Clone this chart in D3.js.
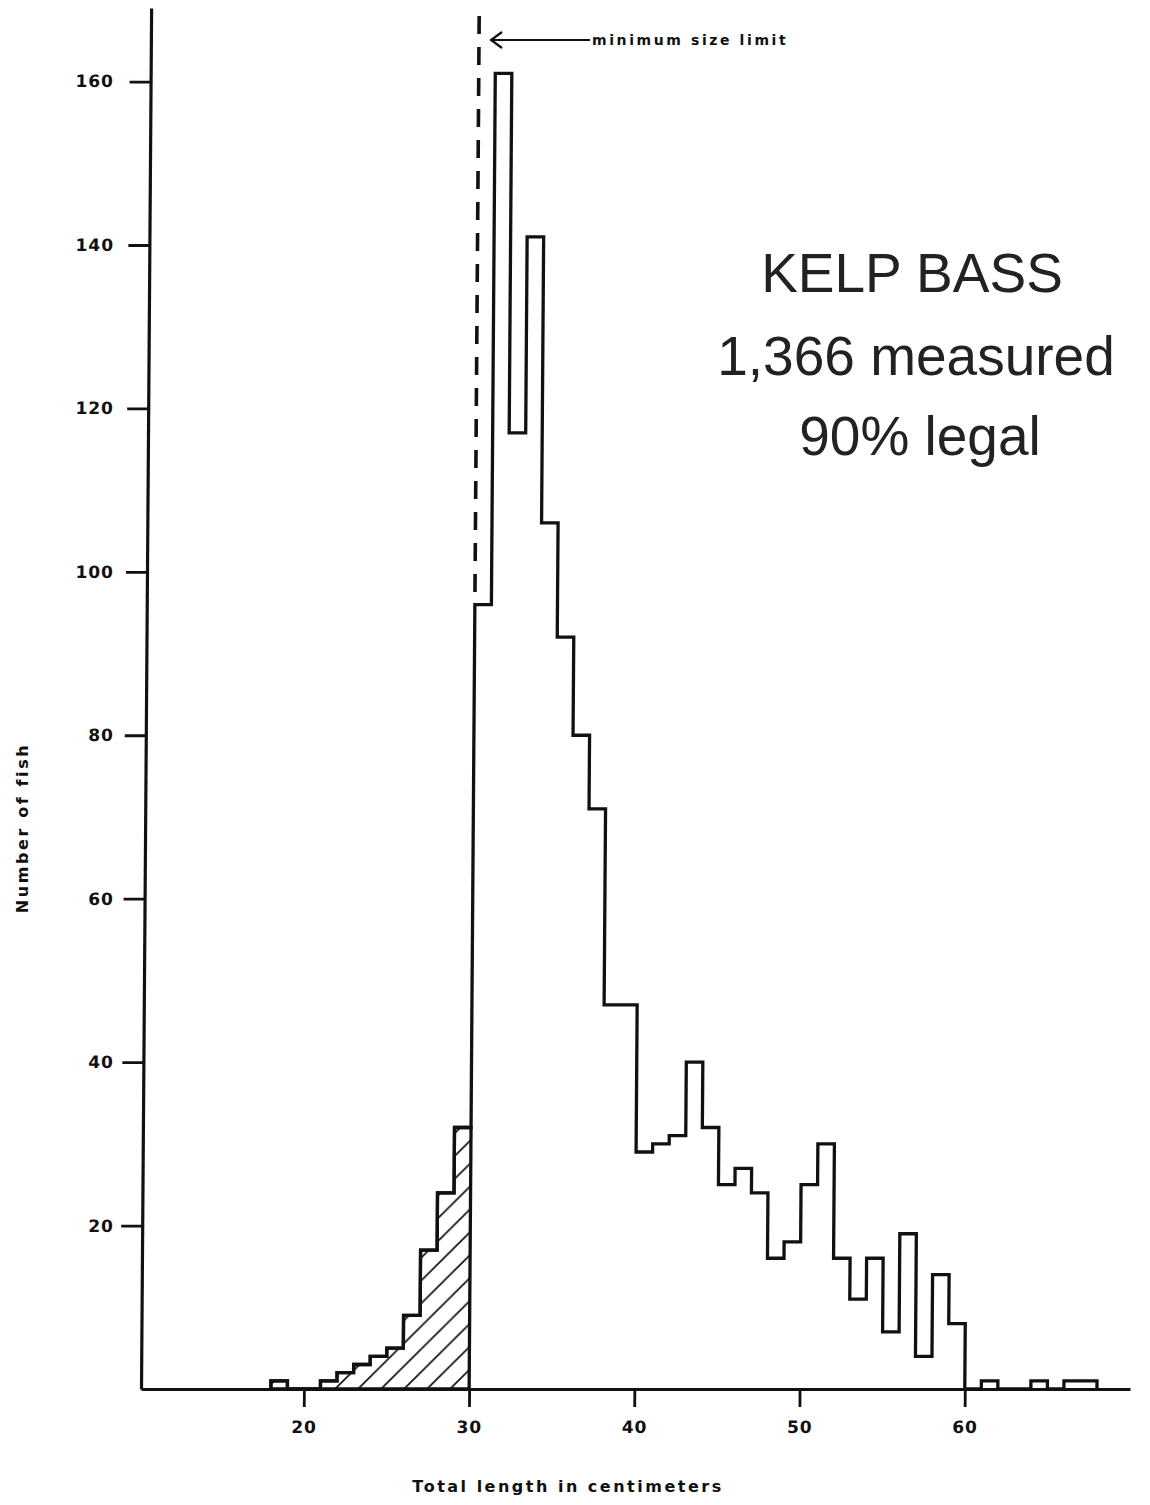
<!DOCTYPE html>
<html>
<head>
<meta charset="utf-8">
<script src="https://cdn.jsdelivr.net/npm/d3@7"></script>
<style>
body { margin: 0; background: #fff; }
</style>
</head>
<body>
<script>
//lower bound of each 1 cm length class
var binStart = [18, 19, 20, 21, 22, 23, 24, 25, 26, 27, 28, 29,
                30, 31, 32, 33, 34, 35, 36, 37, 38, 39,
                40, 41, 42, 43, 44, 45, 46, 47, 48, 49,
                50, 51, 52, 53, 54, 55, 56, 57, 58, 59,
                60, 61, 62, 63, 64, 65, 66, 67];
//number of fish in each class
var fishCount = [1, 0, 0, 1, 2, 3, 4, 5, 9, 17, 24, 32,
                 96, 161, 117, 141, 106, 92, 80, 71, 47, 47,
                 29, 30, 31, 40, 32, 25, 27, 24, 16, 18,
                 25, 30, 16, 11, 16, 7, 19, 4, 14, 8,
                 0, 1, 0, 0, 1, 0, 1, 1];
var xTicks = [20, 30, 40, 50, 60];
var yTicks = [20, 40, 60, 80, 100, 120, 140, 160];
var minSizeLimit = 30; //cm, everything below is hatched (sublegal)
var noteLines = ["KELP BASS", "1,366 measured", "90% legal"];

window.onload = setChart();

function setChart(){
    var width = 1150,
        height = 1505;

    //the scanned original leans a little to the right
    var lean = Math.tan(0.42 * Math.PI / 180);

    var svg = d3.select("body")
        .append("svg")
        .attr("width", width)
        .attr("height", height);

    var x = d3.scaleLinear()
        .domain([10.14, 70])
        .range([141, 1130]);

    var y = d3.scaleLinear()
        .domain([0, 169])
        .range([1389, 8]);

    var chart = svg.append("g")
        .attr("transform", "translate(0," + y(0) + ") skewX(" + (-0.42) + ") translate(0," + (-y(0)) + ")");

    var bins = binStart.map(function(s, i){
        return {x0: s, x1: s + 1, n: fishCount[i]};
    });

    //hatch pattern for the sublegal fish
    var defs = svg.append("defs");
    var hatch = defs.append("pattern")
        .attr("id", "hatch")
        .attr("patternUnits", "userSpaceOnUse")
        .attr("x", 22)
        .attr("y", 0)
        .attr("width", 23)
        .attr("height", 23);
    hatch.append("path")
        .attr("d", "M-6,6L6,-6M0,23L23,0M17,29L29,17")
        .attr("stroke", "#111")
        .attr("stroke-width", 1.8);

    //step points
    function steps(list){
        var pts = [];
        list.forEach(function(b){
            pts.push([b.x0, b.n]);
            pts.push([b.x1, b.n]);
        });
        return pts;
    }

    var sublegal = bins.filter(function(b){ return b.x0 < minSizeLimit; });

    var area = d3.area()
        .x(function(d){ return x(d[0]); })
        .y0(y(0))
        .y1(function(d){ return y(d[1]); });

    chart.append("path")
        .attr("class", "sublegal")
        .attr("d", area(steps(sublegal)))
        .attr("fill", "url(#hatch)")
        .attr("stroke", "#111")
        .attr("stroke-width", 3.3);

    var line = d3.line()
        .x(function(d){ return x(d[0]); })
        .y(function(d){ return y(d[1]); });

    var outline = [[bins[0].x0, 0]].concat(steps(bins));
    outline.push([bins[bins.length - 1].x1, 0]);

    chart.append("path")
        .attr("class", "histogram")
        .attr("d", line(outline))
        .attr("fill", "none")
        .attr("stroke", "#111")
        .attr("stroke-width", 3.3);

    //axes
    var xAxis = d3.axisBottom(x)
        .tickValues(xTicks)
        .tickSize(18)
        .tickSizeOuter(0)
        .tickPadding(14);

    var yAxis = d3.axisLeft(y)
        .tickValues(yTicks)
        .tickSize(21)
        .tickSizeOuter(0)
        .tickPadding(6);

    var gx = chart.append("g")
        .attr("class", "x axis")
        .attr("transform", "translate(0," + y(0) + ")")
        .call(xAxis);

    var gy = chart.append("g")
        .attr("class", "y axis")
        .attr("transform", "translate(" + x.range()[0] + ",0)")
        .call(yAxis);

    [gx, gy].forEach(function(g){
        g.select(".domain").attr("stroke", "#111").attr("stroke-width", 3.2);
        g.selectAll(".tick line").attr("stroke", "#111").attr("stroke-width", 2.8);
        g.selectAll(".tick text")
            .attr("fill", "#111")
            .style("font-family", "'DejaVu Sans', sans-serif")
            .style("font-weight", "bold")
            .style("font-size", "17px")
            .style("letter-spacing", "1px");
    });

    //keep the y labels upright in one column
    gy.selectAll(".tick text")
        .attr("dx", function(d){ return -(y(0) - y(d)) * lean; });

    //minimum size limit
    var top = 16;
    chart.append("line")
        .attr("x1", x(minSizeLimit))
        .attr("x2", x(minSizeLimit))
        .attr("y1", top)
        .attr("y2", y(fishCount[binStart.indexOf(minSizeLimit)]))
        .attr("stroke", "#111")
        .attr("stroke-width", 3.6)
        .attr("stroke-dasharray", "18,13");

    var tip = x(minSizeLimit) + (y(0) - 40) * lean + 12;
    svg.append("line")
        .attr("x1", tip)
        .attr("x2", 590)
        .attr("y1", 40)
        .attr("y2", 40)
        .attr("stroke", "#111")
        .attr("stroke-width", 2.2);
    svg.append("path")
        .attr("d", "M" + (tip + 11) + ",32L" + tip + ",40L" + (tip + 11) + ",48")
        .attr("fill", "none")
        .attr("stroke", "#111")
        .attr("stroke-width", 2.2);
    svg.append("text")
        .attr("x", 592)
        .attr("y", 45)
        .text("minimum size limit")
        .attr("fill", "#111")
        .style("font-family", "'DejaVu Sans', sans-serif")
        .style("font-weight", "bold")
        .style("font-size", "14px")
        .style("letter-spacing", "2.6px");

    //axis titles
    svg.append("text")
        .attr("x", 568)
        .attr("y", 1492)
        .attr("text-anchor", "middle")
        .text("Total length in centimeters")
        .attr("fill", "#111")
        .style("font-family", "'DejaVu Sans', sans-serif")
        .style("font-weight", "bold")
        .style("font-size", "16px")
        .style("letter-spacing", "2.5px");

    svg.append("text")
        .attr("transform", "translate(28,828) rotate(-90)")
        .attr("text-anchor", "middle")
        .text("Number of fish")
        .attr("fill", "#111")
        .style("font-family", "'DejaVu Sans', sans-serif")
        .style("font-weight", "bold")
        .style("font-size", "16px")
        .style("letter-spacing", "2.6px");

    //big note
    var noteX = [912, 916, 920],
        noteY = [292, 375, 455];
    svg.selectAll(".note")
        .data(noteLines)
        .enter()
        .append("text")
        .attr("class", "note")
        .attr("x", function(d, i){ return noteX[i]; })
        .attr("y", function(d, i){ return noteY[i]; })
        .attr("text-anchor", "middle")
        .text(function(d){ return d; })
        .attr("fill", "#222")
        .style("font-family", "'Liberation Sans', Arial, sans-serif")
        .style("font-size", "55px");
};
</script>
</body>
</html>
